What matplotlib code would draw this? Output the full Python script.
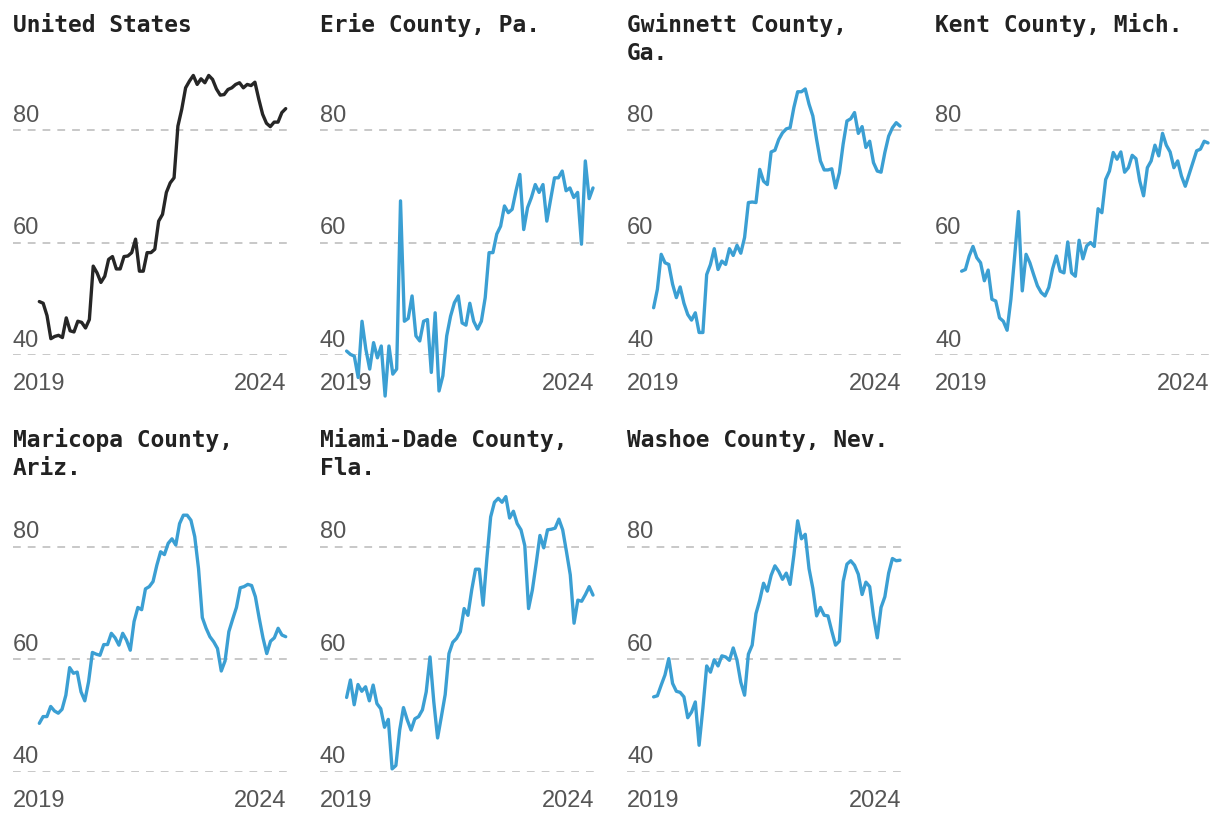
import numpy as np
import matplotlib
matplotlib.use("Agg")
import matplotlib.pyplot as plt
from matplotlib.transforms import offset_copy

# Titles of the small multiples (in reading order)
titles = [
    "United States",
    "Erie County, Pa.",
    "Gwinnett County,\nGa.",
    "Kent County, Mich.",
    "Maricopa County,\nAriz.",
    "Miami-Dade County,\nFla.",
    "Washoe County, Nev.",
]

# Monthly values, 2019 -> mid 2024
us = [49.5, 49.2, 47, 42.9, 43.3, 43.5, 43.1, 46.6, 44.3, 44.1,
      46, 45.8, 44.8, 46.3, 55.8, 54.6, 52.9, 54, 57, 57.5,
      55.3, 55.3, 57.5, 57.6, 58.2, 60.6, 54.9, 54.9, 58.2, 58.2,
      58.8, 63.8, 65, 68.9, 70.6, 71.5, 80.7, 83.7, 87.5, 88.7,
      89.7, 88.1, 89.1, 88.4, 89.7, 89, 87.3, 86.2, 86.3, 87.2,
      87.5, 88.1, 88.4, 87.5, 88.1, 87.9, 88.5, 85.5, 82.8, 81.2,
      80.6, 81.4, 81.4, 83.1, 83.8]

erie = [40.7, 40.1, 39.8, 36, 46, 41, 37.5, 42.2, 39.5, 41.6,
        32.7, 41.6, 36.6, 37.5, 67.4, 46, 46.5, 50.5, 43.4, 42.5,
        46, 46.3, 36.9, 47.5, 33.6, 36.3, 43.4, 46.9, 49.3, 50.5,
        45.7, 45.3, 49.2, 46, 44.6, 46, 50.2, 58.2, 58.2, 61.5,
        62.9, 66.5, 65.3, 65.9, 69.2, 72.1, 62.3, 66.2, 68, 70.3,
        68.9, 70.3, 63.8, 67.7, 71.5, 71.5, 72.7, 69.2, 69.7, 68,
        68.9, 59.7, 74.5, 67.8, 69.7]

gwinnett = [48.4, 51.7, 57.9, 56.4, 56.1, 52.6, 50.2, 52.1, 49.2, 47.2,
            46.2, 47.5, 44, 44, 54.3, 56.1, 58.9, 55.2, 56.7, 56.1,
            58.9, 57.7, 59.5, 58.1, 60.9, 67.1, 67.2, 67.1, 73, 70.9,
            70.3, 76.1, 76.4, 78.3, 79.5, 80.2, 80.4, 84, 86.8, 86.8,
            87.3, 84.6, 82.5, 78.3, 74.5, 72.9, 72.9, 73.1, 69.7, 72.4,
            77.5, 81.6, 82, 83.1, 79.4, 80.6, 76.9, 78, 74.2, 72.7,
            72.5, 76, 78.9, 80.4, 81.3, 80.7]

kent = [54.9, 55.2, 57.6, 59.3, 57.3, 56.4, 53.2, 55.1, 49.9, 49.6,
        46.6, 46, 44.4, 49.9, 57.6, 65.5, 51.4, 57.9, 56.4, 54.3,
        52.3, 51.1, 50.5, 52, 55.3, 57.6, 54.9, 54.6, 60.1, 54.6,
        54, 60.4, 57.1, 59.4, 60, 59.3, 66, 65.3, 71.2, 72.7,
        76, 74.8, 76.1, 72.5, 73.3, 75.5, 74.9, 70.9, 68.3, 73.3,
        74.5, 77.3, 75.4, 79.4, 77.3, 76.1, 73.3, 74.5, 71.8, 70,
        72.1, 74.2, 76.3, 76.6, 78, 77.7]

maricopa = [48.6, 49.8, 49.8, 51.6, 50.8, 50.4, 51.1, 53.6, 58.5, 57.5,
            57.7, 54.2, 52.6, 56, 61.2, 60.9, 60.7, 62.6, 62.6, 64.6,
            63.8, 62.5, 64.6, 63.4, 61.6, 66.7, 69.2, 68.8, 72.5, 72.9,
            73.8, 76.7, 79.1, 78.6, 80.6, 81.4, 80.3, 84.1, 85.6, 85.6,
            84.7, 81.8, 76.1, 67.4, 65.5, 64, 63.1, 61.9, 57.9, 59.7,
            64.9, 67.1, 69.2, 72.7, 72.9, 73.3, 73.1, 71.1, 67.3, 63.8,
            61, 63.2, 63.8, 65.5, 64.3, 64]

miami = [53.2, 56.3, 51.9, 55.5, 54.3, 55.1, 52.6, 55.4, 52.1, 51.2,
         47.9, 49.3, 40.5, 41.1, 47.4, 51.4, 49.2, 47.4, 49.4, 49.8,
         51, 54.2, 60.4, 52.4, 46, 49.8, 53.7, 61, 63, 63.7,
         64.9, 69, 67.8, 72.3, 76, 76, 69.6, 77.9, 85.3, 87.9,
         88.6, 87.9, 88.9, 85.1, 86.3, 84.1, 83, 80.2, 69, 72.3,
         77, 82, 79.8, 83, 83.1, 83.3, 84.9, 83, 79.1, 75,
         66.4, 70.5, 70.3, 71.5, 72.9, 71.4]

washoe = [53.3, 53.5, 55.4, 57.2, 60.1, 55.7, 54.3, 54.1, 53.3, 49.6,
          50.6, 52.4, 44.7, 51.3, 58.8, 57.7, 59.9, 58.8, 60.6, 60.4,
          59.8, 62, 59.8, 55.9, 53.6, 60.9, 62.5, 68.1, 70.5, 73.5,
          72.1, 74.9, 76.6, 75.6, 74.2, 75.3, 73.3, 78.5, 84.6, 81.4,
          82.2, 76.1, 72.6, 67.7, 69.2, 67.8, 67.7, 65, 62.5, 63.2,
          73.8, 76.9, 77.5, 76.7, 75.1, 71.5, 73.7, 72.9, 67.7, 63.8,
          69.2, 71.1, 75.3, 77.9, 77.5, 77.6]

series = [us, erie, gwinnett, kent, maricopa, miami, washoe]
y_ticks = [40, 60, 80]
x_labels = ["2019", "2024"]

W, H = 1220, 822
fig = plt.figure(figsize=(W / 100, H / 100), dpi=100)
fig.patch.set_facecolor("white")

col_left = [12.7, 320, 627, 935]   # px
ax_w = 274
row_base = [355, 771.7]            # px of the y=40 line
px_per_unit = 5.625
ymin, ymax = 40, 90
ax_h = (ymax - ymin) * px_per_unit

title_font = ["DejaVu Sans Mono"]
label_font = ["Liberation Sans", "DejaVu Sans"]

for k, (title, vals) in enumerate(zip(titles, series)):
    r, c = divmod(k, 4)
    left = col_left[c]
    bottom = row_base[r]
    ax = fig.add_axes([left / W, 1 - bottom / H, ax_w / W, ax_h / H])
    ax.set_xlim(-0.108, 1.004)
    ax.set_ylim(ymin, ymax)
    ax.axis("off")

    for t in y_ticks:
        ax.axhline(t, color="#c8c8c8", lw=1.4, dashes=(4, 3.6), zorder=1)
        tr = offset_copy(ax.get_yaxis_transform(), fig=fig, y=6, units="points")
        ax.text(0, t, str(t), transform=tr, ha="left", va="baseline",
                fontsize=17, color="#555555", family=label_font, zorder=2)

    ax.text(0, -35 / ax_h, x_labels[0], transform=ax.transAxes, ha="left",
            va="baseline", fontsize=17, color="#555555", family=label_font, zorder=2)
    ax.text(1, -35 / ax_h, x_labels[1], transform=ax.transAxes, ha="right",
            va="baseline", fontsize=17, color="#555555", family=label_font, zorder=2)

    color = "#262626" if k == 0 else "#3b9fd3"
    x = np.linspace(0, 1, len(vals))
    ax.plot(x, vals, color=color, lw=2.4, solid_joinstyle="round",
            solid_capstyle="round", clip_on=False, zorder=5)

    # title, one text per line
    base = 32 + r * 415
    for i, line in enumerate(title.split("\n")):
        fig.text(left / W, 1 - (base + i * 28) / H, line, ha="left", va="baseline",
                 fontsize=16.5, fontweight="bold", color="#222222", family=title_font)

fig.savefig("out.png", dpi=100, facecolor="white")
